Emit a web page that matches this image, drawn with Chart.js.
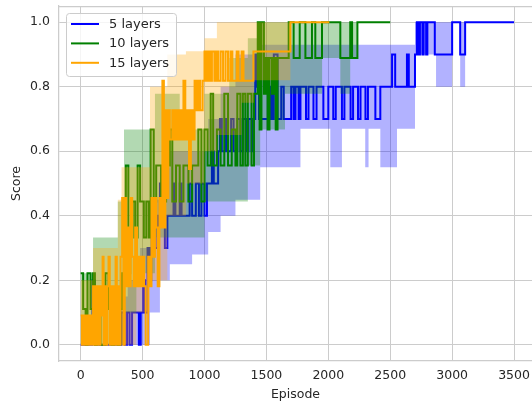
<!DOCTYPE html>
<html>
<head>
<meta charset="utf-8">
<script src="https://cdn.jsdelivr.net/npm/chart.js@4.4.1/dist/chart.umd.min.js"></script>
<style>
  html, body { margin: 0; padding: 0; background: #fff; }
  canvas { display: block; }
</style>
</head>
<body>
<canvas id="chart" width="532" height="404"></canvas>
<script>
const seriesNames = ['5 layers', '10 layers', '15 layers'];
const seriesColors = ['#0000ff', '#008000', '#ffa500'];
const bandColors = ['rgba(0,0,255,0.3)', 'rgba(0,128,0,0.3)', 'rgba(255,165,0,0.3)'];
const xTicks = [0, 500, 1000, 1500, 2000, 2500, 3000, 3500];
const yTicks = [0, 0.2, 0.4, 0.6, 0.8, 1.0];

// [episode, score] - score holds from that episode on
const blueSteps = [
  [0, 0], [95, 0.2], [115, 0], [330, 0.1], [355, 0], [375, 0.1], [395, 0], [415, 0.1],
  [470, 0], [485, 0.1], [505, 0.2], [520, 0.1], [540, 0.3], [555, 0.2], [570, 0.3],
  [590, 0.4], [605, 0.3], [625, 0.4], [640, 0.5], [655, 0.4], [680, 0.3], [700, 0.4],
  [750, 0.5], [765, 0.4], [800, 0.5], [815, 0.4], [880, 0.5], [900, 0.4], [930, 0.5],
  [955, 0.4], [975, 0.5], [1000, 0.4], [1020, 0.5], [1060, 0.6], [1075, 0.5], [1110, 0.6],
  [1125, 0.7], [1140, 0.6], [1170, 0.7], [1185, 0.6], [1215, 0.7], [1235, 0.6], [1265, 0.7],
  [1290, 0.6], [1310, 0.7], [1335, 0.6], [1355, 0.7], [1380, 0.6], [1395, 0.7], [1410, 0.9],
  [1425, 0.8], [1440, 0.7], [1530, 0.8], [1545, 0.7], [1560, 0.9], [1590, 0.7], [1620, 0.8],
  [1640, 0.7], [1700, 0.8], [1720, 0.7], [1735, 0.8], [1760, 0.7], [1775, 0.8], [1820, 0.7],
  [1840, 0.8], [1880, 0.7], [1905, 0.8], [1960, 0.7], [2000, 0.8], [2040, 0.7], [2060, 0.8],
  [2110, 0.7], [2130, 0.8], [2180, 0.7], [2200, 0.8], [2240, 0.7], [2260, 0.8], [2300, 0.7],
  [2320, 0.8], [2380, 0.7], [2420, 0.8], [2515, 0.9], [2540, 0.8], [2635, 0.9], [2650, 0.8],
  [2700, 0.9], [2715, 1.0], [2725, 0.9], [2740, 1.0], [2760, 0.9], [2770, 1.0], [2790, 0.9],
  [2800, 1.0], [2860, 0.9], [3000, 1.0], [3065, 0.9], [3105, 1.0], [3500, 1.0]
];

const greenSteps = [
  [0, 0.222], [20, 0.111], [40, 0], [55, 0.222], [80, 0.111], [100, 0.222], [115, 0],
  [130, 0.111], [160, 0], [200, 0.222], [225, 0.111], [250, 0], [270, 0.111], [300, 0],
  [320, 0.111], [335, 0.222], [350, 0.333], [365, 0.556], [385, 0.222], [400, 0.333],
  [420, 0.444], [440, 0.333], [460, 0.556], [480, 0.444], [510, 0.333], [530, 0.444],
  [550, 0.333], [565, 0.667], [590, 0.444], [610, 0.556], [650, 0.444], [690, 0.556],
  [720, 0.667], [740, 0.444], [770, 0.556], [800, 0.444], [830, 0.556], [870, 0.444],
  [900, 0.556], [950, 0.667], [975, 0.444], [1000, 0.667], [1025, 0.556], [1050, 0.778],
  [1070, 0.556], [1100, 0.667], [1130, 0.556], [1160, 0.778], [1190, 0.556], [1220, 0.667],
  [1250, 0.556], [1265, 0.778], [1290, 0.556], [1310, 0.778], [1330, 0.556], [1350, 0.778],
  [1380, 0.556], [1400, 0.778], [1430, 1.0], [1445, 0.667], [1460, 1.0], [1480, 0.778],
  [1495, 0.889], [1510, 0.667], [1525, 0.889], [1545, 0.778], [1560, 0.889], [1575, 0.667],
  [1590, 0.889], [1680, 1.0], [1720, 0.889], [1769, 1.0], [1815, 0.889], [1868, 1.0],
  [1895, 0.889], [1949, 1.0], [2097, 0.889], [2177, 1.0], [2192, 0.889], [2235, 1.0],
  [2500, 1.0]
];

const orangeSteps = [
  [0, 0.091], [10, 0], [20, 0.091], [30, 0], [40, 0.091], [50, 0], [60, 0.091], [70, 0],
  [80, 0.091], [90, 0], [100, 0.182], [110, 0], [120, 0.182], [130, 0], [140, 0.182],
  [150, 0], [160, 0.182], [170, 0.091], [177, 0.273], [185, 0], [195, 0.182], [205, 0],
  [215, 0.182], [225, 0.273], [235, 0], [245, 0.182], [255, 0], [265, 0.182], [275, 0],
  [282, 0.273], [292, 0], [302, 0.182], [312, 0], [322, 0.273], [335, 0.455], [345, 0],
  [356, 0.455], [368, 0.182], [380, 0.364], [392, 0.182], [404, 0.455], [416, 0.273],
  [428, 0.182], [440, 0.364], [455, 0.182], [470, 0.273], [485, 0.182], [500, 0.273],
  [512, 0.182], [525, 0], [545, 0.273], [560, 0.182], [572, 0.455], [585, 0.273],
  [600, 0.455], [612, 0.364], [622, 0.182], [636, 0.455], [650, 0.364], [660, 0.818],
  [672, 0.364], [684, 0.727], [696, 0.455], [708, 0.727], [720, 0.636], [740, 0.727],
  [755, 0.636], [770, 0.727], [785, 0.636], [800, 0.727], [815, 0.636], [830, 0.818],
  [845, 0.636], [860, 0.727], [875, 0.545], [890, 0.727], [905, 0.636], [920, 0.818],
  [935, 0.727], [950, 0.818], [965, 0.727], [985, 0.818], [1000, 0.909], [1015, 0.818],
  [1030, 0.909], [1045, 0.818], [1060, 0.909], [1080, 0.818], [1095, 0.909], [1110, 0.818],
  [1130, 0.909], [1150, 0.818], [1170, 0.909], [1190, 0.818], [1210, 0.909], [1225, 0.818],
  [1260, 0.909], [1275, 0.818], [1300, 0.909], [1315, 0.818], [1395, 0.909], [1694, 1.0],
  [2008, 1.0]
];

// [episode, low, high] of the shaded band
const blueBand = [
  [0, 0, 0], [300, 0, 0.15], [380, 0, 0.2], [480, 0, 0.3], [560, 0.1, 0.45], [640, 0.2, 0.55],
  [720, 0.25, 0.6], [900, 0.28, 0.6], [1030, 0.35, 0.7], [1130, 0.4, 0.8], [1250, 0.45, 0.9],
  [1450, 0.55, 0.93], [1775, 0.67, 0.93], [2016, 0.55, 0.93], [2110, 0.67, 0.93],
  [2298, 0.55, 0.93], [2325, 0.67, 0.93], [2420, 0.55, 0.93], [2555, 0.67, 0.93],
  [2700, 0.9, 1.0], [2870, 0.8, 1.0], [3000, 1.0, 1.0], [3065, 0.8, 1.0], [3105, 1.0, 1.0],
  [3500, 1.0, 1.0]
];

const greenBand = [
  [0, 0, 0.222], [100, 0, 0.333], [300, 0, 0.444], [350, 0.1, 0.667], [450, 0.222, 0.667],
  [600, 0.333, 0.778], [800, 0.333, 0.667], [1000, 0.444, 0.778], [1200, 0.444, 0.889],
  [1350, 0.556, 0.95], [1450, 0.667, 1.0], [1650, 0.778, 1.0], [1950, 0.889, 1.0],
  [2097, 0.778, 1.0], [2177, 0.889, 1.0], [2235, 1.0, 1.0], [2500, 1.0, 1.0]
];

const orangeBand = [
  [0, 0, 0.2], [100, 0, 0.3], [300, 0, 0.45], [330, 0, 0.55], [450, 0.1, 0.55],
  [560, 0.2, 0.8], [700, 0.4, 0.9], [850, 0.5, 0.91], [1000, 0.6, 0.95], [1100, 0.65, 1.0],
  [1300, 0.75, 1.0], [1400, 0.82, 1.0], [1694, 1.0, 1.0], [2008, 1.0, 1.0]
];

const allSteps = [blueSteps, greenSteps, orangeSteps];
const allBands = [blueBand, greenBand, orangeBand];

const FONT = 'DejaVu Sans';
const TEXT = '#262626';
const GRID = '#cccccc';

function buildDatasets() {
  const sets = [];
  allSteps.forEach((steps, i) => {
    const band = allBands[i];
    const base = 6 - i * 2;
    sets.push({
      data: band.map(b => ({ x: b[0], y: b[2] })),
      stepped: true, pointRadius: 0, borderWidth: 0,
      backgroundColor: bandColors[i], fill: '+1', order: base + 1
    });
    sets.push({
      data: band.map(b => ({ x: b[0], y: b[1] })),
      stepped: true, pointRadius: 0, borderWidth: 0,
      backgroundColor: bandColors[i], fill: false, order: base + 1
    });
    sets.push({
      label: seriesNames[i],
      data: steps.map(s => ({ x: s[0], y: s[1] })),
      stepped: true, pointRadius: 0, borderWidth: 2,
      borderColor: seriesColors[i], fill: false, order: base
    });
  });
  return sets;
}

const framePlugin = {
  id: 'frame',
  beforeDatasetsDraw(chart) {
    const { ctx, chartArea } = chart;
    ctx.save();
    ctx.strokeStyle = GRID;
    ctx.lineWidth = 1.25;
    ctx.beginPath();
    ctx.moveTo(chartArea.left, chartArea.top + 0.5);
    ctx.lineTo(chartArea.right, chartArea.top + 0.5);
    ctx.stroke();
    ctx.restore();
  },
  afterDraw(chart) {
    const { ctx } = chart;
    const x0 = 66, y0 = 13, w = 110, h = 63, r = 3;
    ctx.save();
    ctx.beginPath();
    ctx.roundRect(x0 + 0.5, y0 + 0.5, w, h, r);
    ctx.fillStyle = 'rgba(255,255,255,0.8)';
    ctx.fill();
    ctx.strokeStyle = GRID;
    ctx.lineWidth = 1;
    ctx.stroke();
    ctx.font = '13px "' + FONT + '"';
    ctx.textBaseline = 'middle';
    ctx.fillStyle = TEXT;
    seriesNames.forEach((name, i) => {
      const y = 24 + i * 19.4;
      ctx.strokeStyle = seriesColors[i];
      ctx.lineWidth = 2;
      ctx.beginPath();
      ctx.moveTo(71, y);
      ctx.lineTo(99, y);
      ctx.stroke();
      ctx.fillText(name, 109, y + 0.5);
    });
    ctx.restore();
  }
};

const tickFont = { family: FONT, size: 12.5 };

function noPad(s) {
  s.paddingLeft = 0; s.paddingRight = 0; s.paddingTop = 0; s.paddingBottom = 0;
}

new Chart(document.getElementById('chart'), {
  type: 'line',
  data: { datasets: buildDatasets() },
  plugins: [framePlugin],
  options: {
    responsive: false,
    animation: false,
    devicePixelRatio: 1,
    layout: { padding: { top: 6, right: 0, left: 0, bottom: 0 } },
    plugins: { legend: { display: false }, tooltip: { enabled: false } },
    elements: { line: { tension: 0 } },
    scales: {
      x: {
        type: 'linear', min: -175, max: 3645,
        afterBuildTicks: s => { s.ticks = xTicks.map(v => ({ value: v })); },
        afterFit: s => { s.height = 43; noPad(s); },
        grid: { color: GRID, lineWidth: 1, drawTicks: false },
        border: { display: true, color: GRID, width: 1.25 },
        ticks: { color: TEXT, font: tickFont, padding: 7, maxRotation: 0, autoSkip: false,
                 callback: v => String(v) },
        title: { display: true, text: 'Episode', color: TEXT, font: tickFont,
                 padding: { top: 0, bottom: 2 } }
      },
      y: {
        type: 'linear', min: -0.05, max: 1.05,
        afterBuildTicks: s => { s.ticks = yTicks.map(v => ({ value: v })); },
        afterFit: s => { s.width = 59; noPad(s); },
        grid: { color: GRID, lineWidth: 1, drawTicks: false },
        border: { display: true, color: GRID, width: 1.25 },
        ticks: { color: TEXT, font: tickFont, padding: 9, callback: v => v.toFixed(1) },
        title: { display: true, text: 'Score', color: TEXT, font: tickFont,
                 padding: { top: 9, bottom: 0 } }
      }
    }
  }
});
</script>
</body>
</html>
